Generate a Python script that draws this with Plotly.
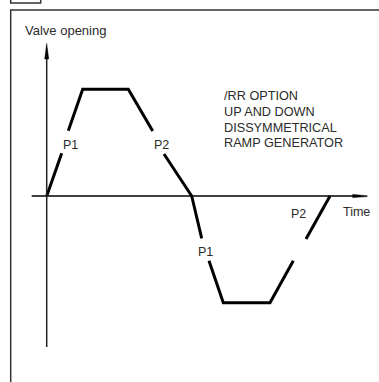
import plotly.graph_objects as go

# Waveform (time, valve opening); None = gap for labels
wave_t = [0, 15, None, 21.6, 36, 81.6, 106, None, 117.3, 145, 155, None,
          162.3, 176.6, 223.3, 246.6, None, 259.3, 283.3]
wave_v = [0, 42.7, None, 65.3, 106.7, 106.7, 65, None, 42, 0, -42.3, None,
          -64.7, -106.7, -106.7, -64.7, None, -43, 0]

ramp_labels = ["P1", "P2", "P1", "P2"]
ramp_label_t = [23.3, 115, 158.3, 251.3]
ramp_label_v = [51, 51, -55.7, -18]

note_lines = ["/RR OPTION", "UP AND DOWN", "DISSYMMETRICAL", "RAMP GENERATOR"]
note_v = [100.3, 84.3, 68.3, 52.7]
note_t = 175.6

y_title = "Valve opening"
x_title = "Time"

W, H = 379, 382
T0, V0 = -46.7, 196  # left/top edges in data units (1 unit = 1 px)

FONT = "Liberation Sans, Arial, Helvetica, sans-serif"
TXT = "#2b2b2b"

fig = go.Figure()
fig.add_trace(go.Scatter(x=wave_t, y=wave_v, mode="lines",
                         line=dict(color="black", width=3),
                         connectgaps=False, hoverinfo="skip",
                         showlegend=False))

shapes = []
# outer frame and small box
shapes.append(dict(type="path", xref="x", yref="y",
                   path="M -36,-220 L -36,186 L 360,186",
                   line=dict(color="#333", width=1.5)))
shapes.append(dict(type="path", xref="x", yref="y",
                   path="M -36,220 L -36,193 L -6,193 L -6,220",
                   line=dict(color="#333", width=1.5)))
# axes
shapes.append(dict(type="line", xref="x", yref="y", x0=-15, x1=312, y0=0, y1=0,
                   line=dict(color="black", width=1.5)))
shapes.append(dict(type="path", xref="x", yref="y",
                   path="M 306,1.6 L 320.5,0.2 L 320.5,-0.6 L 306,-1.6 Z",
                   fillcolor="black", line=dict(color="black", width=0.5)))
shapes.append(dict(type="line", xref="x", yref="y", x0=0, x1=0, y0=-151, y1=140,
                   line=dict(color="#222", width=1.5)))
shapes.append(dict(type="path", xref="x", yref="y",
                   path="M -2,137 L 0,152.5 L 2,137 Z",
                   fillcolor="black", line=dict(color="black", width=0.5)))

ann = []
fnt = dict(family=FONT, size=13, color=TXT)
ann.append(dict(x=-23.3, y=166, text=y_title, showarrow=False,
                xanchor="left", yanchor="middle", font=fnt))
ann.append(dict(x=294, y=-16, text=x_title, showarrow=False,
                xanchor="left", yanchor="middle", font=dict(family=FONT, size=12.5, color=TXT)))
for s, v in zip(note_lines, note_v):
    ann.append(dict(x=note_t, y=v, text=s, showarrow=False,
                    xanchor="left", yanchor="middle", font=dict(family=FONT, size=12.7, color=TXT)))
for s, t, v in zip(ramp_labels, ramp_label_t, ramp_label_v):
    ann.append(dict(x=t, y=v, text=s, showarrow=False,
                    xanchor="center", yanchor="middle", font=dict(family=FONT, size=12.5, color=TXT)))

fig.update_layout(
    width=W, height=H,
    margin=dict(l=0, r=0, t=0, b=0),
    paper_bgcolor="white", plot_bgcolor="white",
    xaxis=dict(range=[T0, T0 + W], visible=False, fixedrange=True),
    yaxis=dict(range=[V0 - H, V0], visible=False, fixedrange=True),
    shapes=shapes, annotations=ann,
)

fig.write_html("out.html", config={"displayModeBar": False},
               post_script="document.body.style.margin='0';document.body.style.overflow='hidden';")
